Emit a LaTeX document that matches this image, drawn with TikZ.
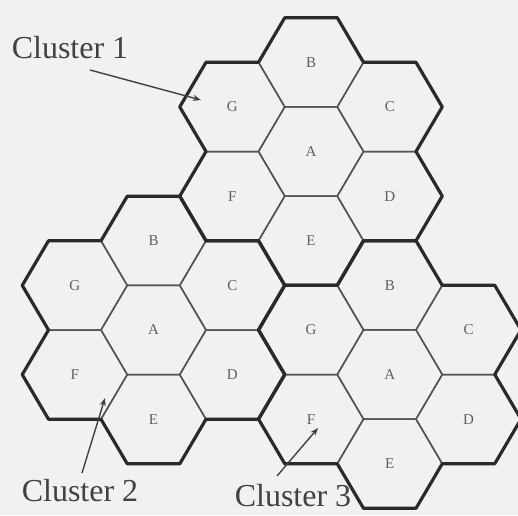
\documentclass[tikz,border=0pt]{standalone}
\usepackage{fontspec}
\setmainfont{Liberation Serif}
\usetikzlibrary{arrows.meta}
\definecolor{bgc}{RGB}{241,241,240}
\definecolor{thickc}{RGB}{42,42,42}
\definecolor{thinc}{RGB}{85,85,85}
\definecolor{letc}{RGB}{95,95,95}
\definecolor{capc}{RGB}{65,65,65}
\tikzset{
  cell/.style={draw=thinc, line width=1.5pt, line join=round},
  clusterline/.style={draw=thickc, line width=3.2pt, line join=round},
  letter/.style={text=letc, font=\fontsize{15}{15}\selectfont},
  caption/.style={text=capc, font=\fontsize{32}{32}\selectfont, inner sep=0pt},
  pointer/.style={draw=capc, line width=1.4pt, -{Stealth[length=8pt,width=6pt]}},
}
\begin{document}
\begin{tikzpicture}[x=1pt,y=-1pt]
\fill[bgc] (0,0) rectangle (518,515);
\useasboundingbox (0,0) rectangle (518,515);
\foreach \k/\cx/\cy in {1/311/151.5, 2/153.5/330, 3/389.75/374.5}{
  \begin{scope}[shift={(\cx,\cy)}, x=52.5pt, y=-44.6pt]
    \foreach \l/\u/\v in {A/0/0, B/0/-2, C/1.5/-1, D/1.5/1, E/0/2, F/-1.5/1, G/-1.5/-1}{
      \draw[cell] (\u+1,\v) -- (\u+.5,\v+1) -- (\u-.5,\v+1) -- (\u-1,\v) -- (\u-.5,\v-1) -- (\u+.5,\v-1) -- cycle;
      \node[letter] (c\k\l) at (\u,\v) {\l};
    }
    \draw[clusterline] (1,-2) -- (.5,-3) -- (-.5,-3) -- (-1,-2) -- (-2,-2) -- (-2.5,-1) -- (-2,0)
      -- (-2.5,1) -- (-2,2) -- (-1,2) -- (-.5,3) -- (.5,3) -- (1,2) -- (2,2) -- (2.5,1) -- (2,0)
      -- (2.5,-1) -- (2,-2) -- cycle;
  \end{scope}
}
\node[caption] (cap1) at (70,48) {Cluster 1};
\node[caption] (cap2) at (80,491) {Cluster 2};
\node[caption] (cap3) at (293,496) {Cluster 3};
\coordinate (p1s) at (90,70);
\coordinate (p1t) at (201,100);
\coordinate (p2s) at (82,473);
\coordinate (p2t) at (105,398);
\coordinate (p3s) at (277,476);
\coordinate (p3t) at (318,428);
\draw[pointer] (p1s) -- (p1t);
\draw[pointer] (p2s) -- (p2t);
\draw[pointer] (p3s) -- (p3t);
\end{tikzpicture}
\end{document}
